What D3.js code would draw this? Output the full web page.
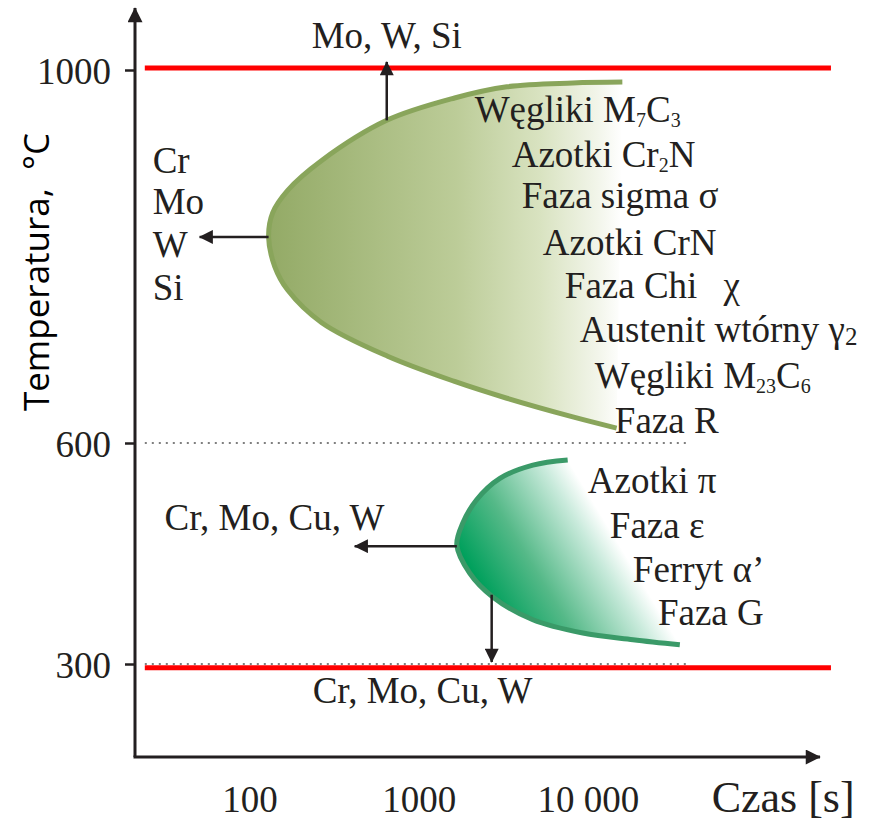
<!DOCTYPE html>
<html>
<head>
<meta charset="utf-8">
<script src="https://cdn.jsdelivr.net/npm/d3@7"></script>
<style>
  html, body { margin: 0; padding: 0; background: #ffffff; }
  svg { display: block; }
</style>
</head>
<body>
<svg id="chart" width="879" height="821"></svg>
<script>
// ---------------- DATA ----------------
const timeTicks = [100, 1000, 10000];
const timeTickLabels = ["100", "1000", "10 000"];
const tempTicks = [300, 600, 1000];
const timeAxisExtent = [21, 236000];
const tempAxisExtent = [174, 1066];

const redLineTemps = [1002, 295];
const redLineTimes = [24, 274000];
const dottedTemps = [600, 300];
const dottedTimes = [24, 38500];

// upper C-curve (time [s], temperature [°C]) from upper end, via the nose, to lower end
const upperCurve = [
  [16000, 987], [8150, 986], [3320, 982], [1630, 970], [647, 946], [267, 903],
  [168, 871], [137, 847], [129.5, 821], [141, 789], [168, 764], [267, 729],
  [655, 693], [1630, 666], [3320, 648], [8150, 628], [14800, 616]
];
// lower C-curve
const lowerCurve = [
  [7600, 577], [4730, 570], [3020, 552], [2200, 523], [1820, 491], [1680, 461.5],
  [2000, 423.5], [2740, 391], [4730, 360], [9340, 342], [18500, 333], [35000, 326]
];

// shift arrows: [time, temp] start -> end
const arrowStarts = [[647, 946], [129.5, 821], [1680, 460], [2700, 394]];
const arrowEnds   = [[647, 1008.6], [50.6, 821], [418, 460], [2700, 302.7]];

// element labels
const elementLabels = ["Mo, W, Si", "Cr", "Mo", "W", "Si", "Cr, Mo, Cu, W", "Cr, Mo, Cu, W"];
const elementAt = [[647, 1023.6], [26.7, 889.5], [26.7, 845.6], [26.7, 799.5], [26.7, 753.4], [31.4, 482], [236, 247]];
const elementAnchor = ["middle", "start", "start", "start", "start", "start", "start"];

// precipitated phases
const upperPhases = ["Węgliki M_{7}C_{3}", "Azotki Cr_{2}N", "Faza sigma σ", "Azotki CrN",
  "Faza Chi|χ", "Austenit wtórny γ_{2}", "Węgliki M_{23}C_{6}", "Faza R"];
const upperPhaseAt = [[2143, 944], [3548, 896], [4068, 852], [5420, 802],
  [7311, 755.5], [8972, 708], [10990, 659], [14450, 611]];
const lowerPhases = ["Azotki π", "Faza ε", "Ferryt α’", "Faza G"];
const lowerPhaseAt = [[10000, 532], [13490, 471], [18460, 411], [25960, 353]];

const xTitle = "Czas [s]";
const xTitleAt = [54000, 99];
const yTitle = "Temperatura,  °C";

// ---------------- SCALES ----------------
const svg = d3.select("#chart");
const x = d3.scaleLog().domain(timeAxisExtent).range([135, 820]);
const y = d3.scaleLinear()
  .domain([tempAxisExtent[0], 300, 600, 1000, tempAxisExtent[1]])
  .range([757, 664, 443, 70, 8]);

const ink = "#231f20";
const serif = "'Liberation Serif', 'Times New Roman', Times, serif";

// ---------------- DEFS ----------------
const defs = svg.append("defs");
function marker(id, len, wid) {
  defs.append("marker")
    .attr("id", id)
    .attr("viewBox", "0 0 10 10")
    .attr("refX", 9.5).attr("refY", 5)
    .attr("markerUnits", "userSpaceOnUse")
    .attr("markerWidth", len).attr("markerHeight", wid)
    .attr("orient", "auto")
    .append("path").attr("d", "M0,0 L10,5 L0,10 Z").attr("fill", ink);
}
marker("axisHead", 17, 15);
marker("arrowHead", 15, 14);

// upper gradient (horizontal)
const upNose = upperCurve.reduce((a, b) => (x(b[0]) < x(a[0]) ? b : a));
const gUp = defs.append("linearGradient").attr("id", "gUp")
  .attr("gradientUnits", "userSpaceOnUse")
  .attr("x1", x(upNose[0])).attr("y1", 0)
  .attr("x2", x(upperCurve[0][0])).attr("y2", 0);
[[0, "#93aa66"], [0.53, "#bccc98"], [0.77, "#d9e3c1"], [0.93, "#f2f5ea"], [1, "#ffffff"]]
  .forEach(s => gUp.append("stop").attr("offset", s[0]).attr("stop-color", s[1]));

// lower gradient: from nose towards the straight cut between the two ends
const loNose = lowerCurve.reduce((a, b) => (x(b[0]) < x(a[0]) ? b : a));
const A = [x(lowerCurve[0][0]), y(lowerCurve[0][1])];
const B = [x(lowerCurve[lowerCurve.length - 1][0]), y(lowerCurve[lowerCurve.length - 1][1])];
const P = [x(loNose[0]), y(loNose[1])];
const d = [B[0] - A[0], B[1] - A[1]];
const tt = ((P[0] - A[0]) * d[0] + (P[1] - A[1]) * d[1]) / (d[0] * d[0] + d[1] * d[1]);
const F = [A[0] + tt * d[0], A[1] + tt * d[1]];
const gLo = defs.append("linearGradient").attr("id", "gLo")
  .attr("gradientUnits", "userSpaceOnUse")
  .attr("x1", P[0]).attr("y1", P[1]).attr("x2", F[0]).attr("y2", F[1]);
[[0, "#00a05c"], [0.39, "#55b988"], [0.82, "#c8eadb"], [1, "#ffffff"]]
  .forEach(s => gLo.append("stop").attr("offset", s[0]).attr("stop-color", s[1]));

// ---------------- GUIDE LINES ----------------
svg.append("g").selectAll("line").data(dottedTemps).join("line")
  .attr("x1", x(dottedTimes[0])).attr("x2", x(dottedTimes[1]))
  .attr("y1", d => y(d)).attr("y2", d => y(d))
  .attr("stroke", "#555555").attr("stroke-width", 1.5)
  .attr("stroke-dasharray", "2,5");

// ---------------- C-CURVES ----------------
const line = d3.line().x(p => x(p[0])).y(p => y(p[1])).curve(d3.curveCatmullRom.alpha(0.5));

svg.append("path").attr("d", line(upperCurve) + "Z").attr("fill", "url(#gUp)");
svg.append("path").attr("d", line(upperCurve)).attr("fill", "none")
  .attr("stroke", "#89a55b").attr("stroke-width", 5);

svg.append("path").attr("d", line(lowerCurve) + "Z").attr("fill", "url(#gLo)");
svg.append("path").attr("d", line(lowerCurve)).attr("fill", "none")
  .attr("stroke", "#3a9a68").attr("stroke-width", 5);

// ---------------- RED LINES ----------------
svg.append("g").selectAll("line").data(redLineTemps).join("line")
  .attr("x1", x(redLineTimes[0])).attr("x2", x(redLineTimes[1]))
  .attr("y1", d => y(d)).attr("y2", d => y(d))
  .attr("stroke", "#ff0000").attr("stroke-width", 5);

// ---------------- AXES ----------------
svg.append("line")
  .attr("x1", x(timeAxisExtent[0])).attr("y1", y(tempAxisExtent[0]))
  .attr("x2", x(timeAxisExtent[0])).attr("y2", y(tempAxisExtent[1]))
  .attr("stroke", ink).attr("stroke-width", 3).attr("marker-end", "url(#axisHead)");
svg.append("line")
  .attr("x1", x(timeAxisExtent[0]) - 1.5).attr("y1", y(tempAxisExtent[0]))
  .attr("x2", x(timeAxisExtent[1])).attr("y2", y(tempAxisExtent[0]))
  .attr("stroke", ink).attr("stroke-width", 3).attr("marker-end", "url(#axisHead)");

const yAxis = svg.append("g")
  .attr("transform", `translate(${x(timeAxisExtent[0])},0)`)
  .call(d3.axisLeft(y).tickValues(tempTicks).tickSize(10).tickPadding(14).tickFormat(d3.format("d")));
yAxis.select(".domain").remove();
yAxis.selectAll(".tick line").attr("stroke", ink).attr("stroke-width", 2.5);
yAxis.selectAll(".tick text").attr("font-family", serif).attr("font-size", 37)
  .attr("fill", ink).attr("dy", "0.36em");

const xAxis = svg.append("g")
  .attr("transform", `translate(0,${y(tempAxisExtent[0])})`)
  .call(d3.axisBottom(x).tickValues(timeTicks).tickSize(0)
    .tickFormat((d, i) => timeTickLabels[i]));
xAxis.select(".domain").remove();
xAxis.selectAll(".tick text").attr("font-family", serif).attr("font-size", 37)
  .attr("fill", ink).attr("y", 55).attr("dy", 0);

// axis titles
svg.append("text")
  .attr("x", x(xTitleAt[0])).attr("y", y(xTitleAt[1]))
  .attr("font-family", serif).attr("font-size", 44).attr("fill", ink)
  .text(xTitle);
svg.append("text")
  .attr("transform", "rotate(-90)")
  .attr("x", -272).attr("y", 49)
  .attr("text-anchor", "middle")
  .attr("font-family", "'Open Sans', 'Noto Sans', sans-serif")
  .attr("font-size", 35).attr("fill", "#000")
  .attr("xml:space", "preserve")
  .style("white-space", "pre")
  .text(yTitle);

// ---------------- ARROWS ----------------
svg.append("g").selectAll("line").data(arrowStarts).join("line")
  .attr("x1", (s) => x(s[0])).attr("y1", (s) => y(s[1]))
  .attr("x2", (s, i) => x(arrowEnds[i][0])).attr("y2", (s, i) => y(arrowEnds[i][1]))
  .attr("stroke", ink).attr("stroke-width", 2.5)
  .attr("marker-end", "url(#arrowHead)");

// ---------------- LABELS ----------------
function richText(sel, str) {
  const parts = str.split(/(_\{[^}]*\}|\|)/).filter(s => s.length);
  let shifted = 0;
  let gap = 0;
  parts.forEach(p => {
    if (p === "|") { gap = 26; return; }
    const m = p.match(/^_\{([^}]*)\}$/);
    if (m) {
      const big = m[1] === "2" && str.includes("γ");
      const sh = big ? 3 : 5;
      sel.append("tspan").attr("font-size", big ? 25 : 20).attr("dy", sh - shifted).text(m[1]);
      shifted = sh;
    } else {
      const t = sel.append("tspan").text(p);
      if (shifted) { t.attr("dy", -shifted); shifted = 0; }
      if (gap) { t.attr("dx", gap); gap = 0; }
    }
  });
}

const lab = svg.append("g").attr("font-family", serif).attr("font-size", 37).attr("fill", ink);
elementLabels.forEach((s, i) => {
  lab.append("text").attr("x", x(elementAt[i][0])).attr("y", y(elementAt[i][1]))
    .attr("text-anchor", elementAnchor[i]).text(s);
});
upperPhases.forEach((s, i) => {
  const t = lab.append("text").attr("x", x(upperPhaseAt[i][0])).attr("y", y(upperPhaseAt[i][1]));
  richText(t, s);
});
lowerPhases.forEach((s, i) => {
  const t = lab.append("text").attr("x", x(lowerPhaseAt[i][0])).attr("y", y(lowerPhaseAt[i][1]));
  richText(t, s);
});
</script>
</body>
</html>
